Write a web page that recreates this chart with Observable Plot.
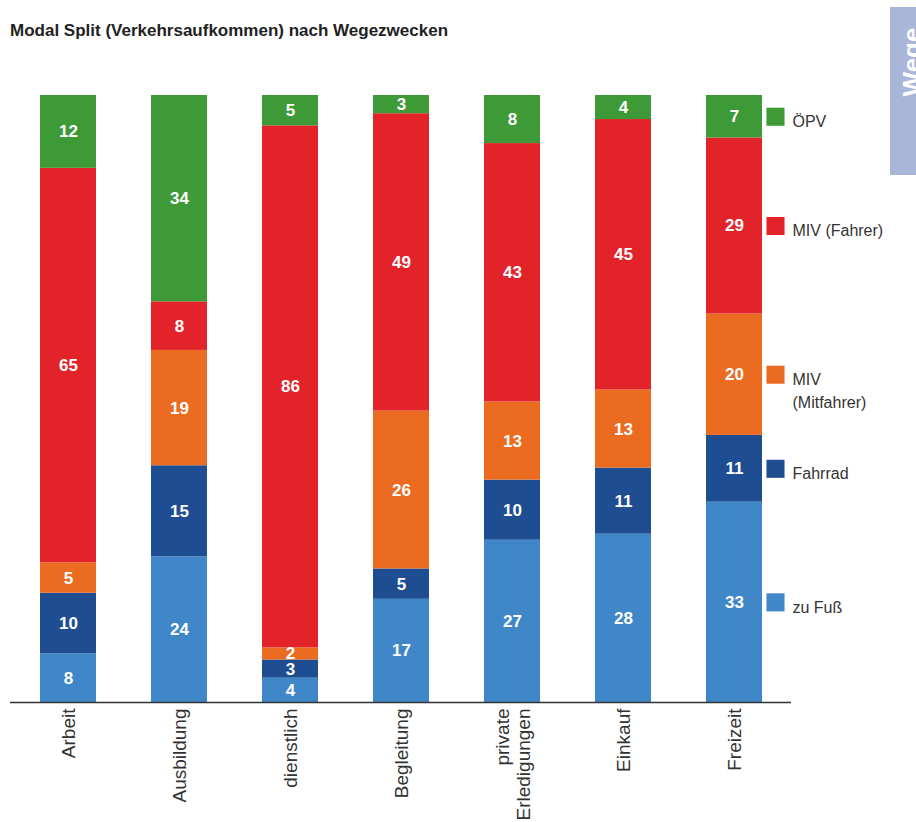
<!DOCTYPE html>
<html>
<head>
<meta charset="utf-8">
<script src="https://cdn.jsdelivr.net/npm/d3@7"></script>
<script src="https://cdn.jsdelivr.net/npm/@observablehq/plot@0.6"></script>
<style>
  html, body { margin: 0; padding: 0; background: #fff; overflow: hidden; }
  #wrap { position: relative; width: 916px; height: 822px; font-family: "Liberation Sans", Arial, sans-serif; }
  #title { height: 50px; box-sizing: border-box; padding: 21px 0 0 10px; font-size: 17px; line-height: 20px; font-weight: bold; color: #222; }
  #tab { position: absolute; left: 890px; top: 7px; width: 30px; height: 168px; background: #a9b6d7; }
</style>
</head>
<body>
<div id="wrap">
  <div id="title">Modal Split (Verkehrsaufkommen) nach Wegezwecken</div>
  <div id="chart"></div>
  <div id="tab"><svg width="30" height="168" style="display:block"><text transform="translate(30.5,55) rotate(-90)" text-anchor="middle" fill="#fff" font-weight="bold" font-size="26" font-family="Liberation Sans, Arial, sans-serif">Wege</text></svg></div>
</div>
<script>
const categories = ["Arbeit", "Ausbildung", "dienstlich", "Begleitung", "private\nErledigungen", "Einkauf", "Freizeit"];
const modes = ["zu Fuß", "Fahrrad", "MIV (Mitfahrer)", "MIV (Fahrer)", "ÖPV"];
const legendLabels = ["zu Fuß", "Fahrrad", "MIV\n(Mitfahrer)", "MIV (Fahrer)", "ÖPV"];
const colors = ["#4087c9", "#1e4d91", "#eb6b21", "#e3232a", "#3d9a37"];

const zuFuss       = [8, 24, 4, 17, 27, 28, 33];
const fahrrad      = [10, 15, 3, 5, 10, 11, 11];
const mivMitfahrer = [5, 19, 2, 26, 13, 13, 20];
const mivFahrer    = [65, 8, 86, 49, 43, 45, 29];
const oepv         = [12, 34, 5, 3, 8, 4, 7];

const series = [zuFuss, fahrrad, mivMitfahrer, mivFahrer, oepv];
const table = categories.flatMap((c, i) => modes.map((m, j) => ({cat: c, mode: m, value: series[j][i], label: legendLabels[j]})));
const legendCat = categories[categories.length - 1];
const legendData = table.filter(d => d.cat === legendCat);

const stackOpts = {x: "cat", y: "value", z: "mode", offset: "normalize"};

const chart = Plot.plot({
  width: 916,
  height: 772,
  marginTop: 45,
  marginBottom: 120,
  marginLeft: 10,
  marginRight: 125,
  style: {fontFamily: "Liberation Sans, Arial, sans-serif", background: "#fff", overflow: "visible"},
  x: {domain: categories, paddingInner: 0.5, paddingOuter: 0.25, axis: null},
  y: {domain: [0, 1], axis: null},
  color: {domain: modes, range: colors},
  marks: [
    Plot.barY(table, Plot.stackY({...stackOpts, fill: "mode"})),
    Plot.text(table, Plot.stackY({...stackOpts, text: "value", fill: "#fff", fontWeight: "bold", fontSize: 17})),
    Plot.ruleY([0], {stroke: "#333", strokeWidth: 1.5}),
    Plot.axisX({tickRotate: -90, tickSize: 0, tickPadding: 6, fontSize: 19, color: "#333", lineHeight: 1.1, label: null}),
    Plot.dot(legendData, Plot.stackY({...stackOpts, fill: "mode", symbol: "square", r: 10.2, dx: 41})),
    Plot.text(legendData, Plot.stackY({...stackOpts, text: "label", dx: 58, dy: -6, textAnchor: "start", lineAnchor: "top", fontSize: 16, fill: "#333", lineHeight: 1.45}))
  ]
});
document.getElementById("chart").appendChild(chart);
</script>
</body>
</html>
